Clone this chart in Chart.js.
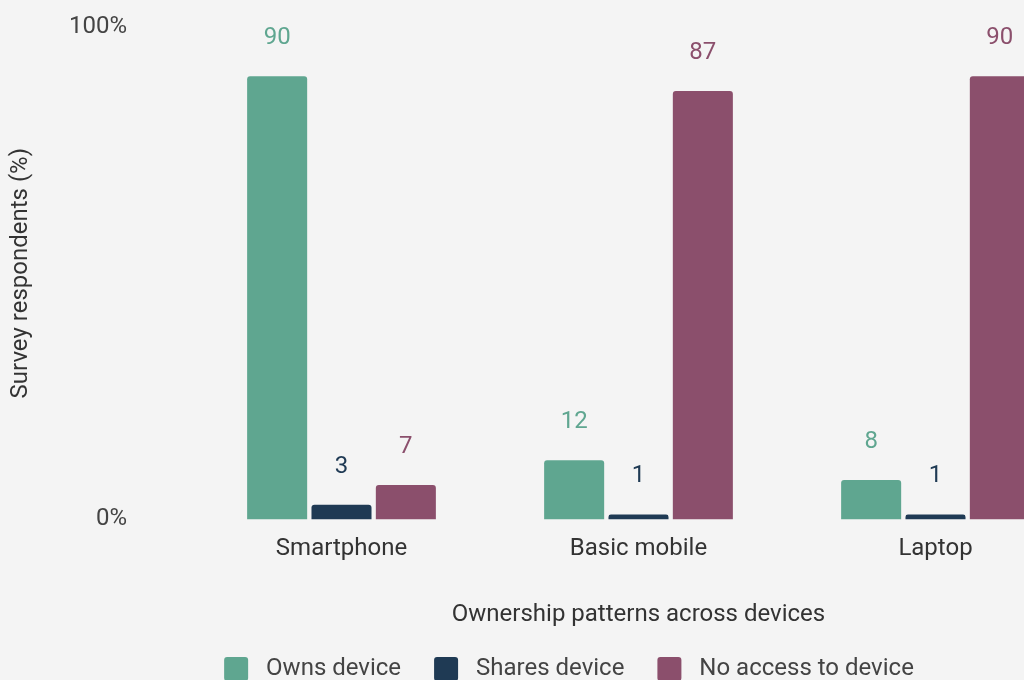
<!DOCTYPE html>
<html>
<head>
<meta charset="utf-8">
<script src="https://cdn.jsdelivr.net/npm/chart.js@4/dist/chart.umd.min.js"></script>
<style>
  html, body { margin: 0; padding: 0; background: #f4f4f4; overflow: hidden; }
  #wrap { width: 1138px; height: 691px; }
</style>
</head>
<body>
<div id="wrap"><canvas id="chart" width="1138" height="691"></canvas></div>
<script>
// Device categories and survey shares (% of respondents)
const categories = ['Smartphone', 'Basic mobile', 'Laptop'];
const ownsDevice = [90, 12, 8];
const sharesDevice = [3, 1, 1];
const noAccess = [7, 87, 90];
const seriesNames = ['Owns device', 'Shares device', 'No access to device'];
const yTicks = [0, 100];

const colors = ['#5fa690', '#1f3a54', '#8b4f6c'];
const FONT = 'Roboto, "Noto Sans", sans-serif';

// Prints each bar's value above it in the series colour
const valueLabels = {
  id: 'valueLabels',
  afterDatasetsDraw(chart) {
    const ctx = chart.ctx;
    ctx.save();
    ctx.font = '24px ' + FONT;
    ctx.textAlign = 'center';
    ctx.textBaseline = 'middle';
    chart.data.datasets.forEach((ds, di) => {
      const meta = chart.getDatasetMeta(di);
      meta.data.forEach((bar, i) => {
        ctx.fillStyle = ds.backgroundColor;
        ctx.fillText(String(ds.data[i]), bar.x, bar.y - 38);
      });
    });
    ctx.restore();
  }
};

const seriesData = [ownsDevice, sharesDevice, noAccess];

new Chart(document.getElementById('chart'), {
  type: 'bar',
  data: {
    labels: categories,
    datasets: seriesNames.map((name, i) => ({
      label: name,
      data: seriesData[i],
      backgroundColor: colors[i],
      borderRadius: 3,
      categoryPercentage: 0.65,
      barPercentage: 0.933
    }))
  },
  options: {
    responsive: false,
    devicePixelRatio: 1,
    animation: false,
    layout: { padding: { top: 27, right: 0, left: 0, bottom: 0 } },
    plugins: {
      tooltip: { enabled: false },
      legend: {
        position: 'bottom',
        labels: {
          color: '#444',
          font: { family: FONT, size: 24 },
          boxWidth: 24,
          boxHeight: 24,
          useBorderRadius: true,
          borderRadius: 3,
          padding: 33,
          generateLabels(chart) {
            const items = Chart.defaults.plugins.legend.labels.generateLabels(chart);
            items.forEach(it => { it.text = ' ' + it.text; });
            return items;
          }
        }
      }
    },
    scales: {
      x: {
        grid: { display: false, drawTicks: false },
        border: { display: false },
        ticks: { color: '#333', font: { family: FONT, size: 24 }, padding: 15 },
        title: {
          display: true,
          text: 'Ownership patterns across devices',
          color: '#333',
          font: { family: FONT, size: 24 },
          padding: { top: 22, bottom: -5 }
        }
      },
      y: {
        min: 0,
        max: 100,
        afterBuildTicks(scale) { scale.ticks = yTicks.map(v => ({ value: v })); },
        afterFit(scale) {
          scale.width = 193;
          scale.paddingTop = 12;
          scale.paddingBottom = 12;
        },
        grid: { display: false, drawTicks: false },
        border: { display: false },
        ticks: {
          color: '#444',
          font: { family: FONT, size: 24 },
          padding: 66,
          callback: v => v + '%'
        },
        title: {
          display: true,
          text: 'Survey respondents (%)',
          color: '#333',
          font: { family: FONT, size: 24 },
          padding: { top: 7, bottom: 0 }
        }
      },
      // empty right-hand margin beside the plot
      yRight: {
        position: 'right',
        afterFit(scale) {
          scale.width = 54;
          scale.paddingTop = 0;
          scale.paddingBottom = 0;
        },
        grid: { display: false, drawTicks: false },
        border: { display: false },
        ticks: { display: false }
      }
    }
  },
  plugins: [valueLabels]
});
</script>
</body>
</html>
